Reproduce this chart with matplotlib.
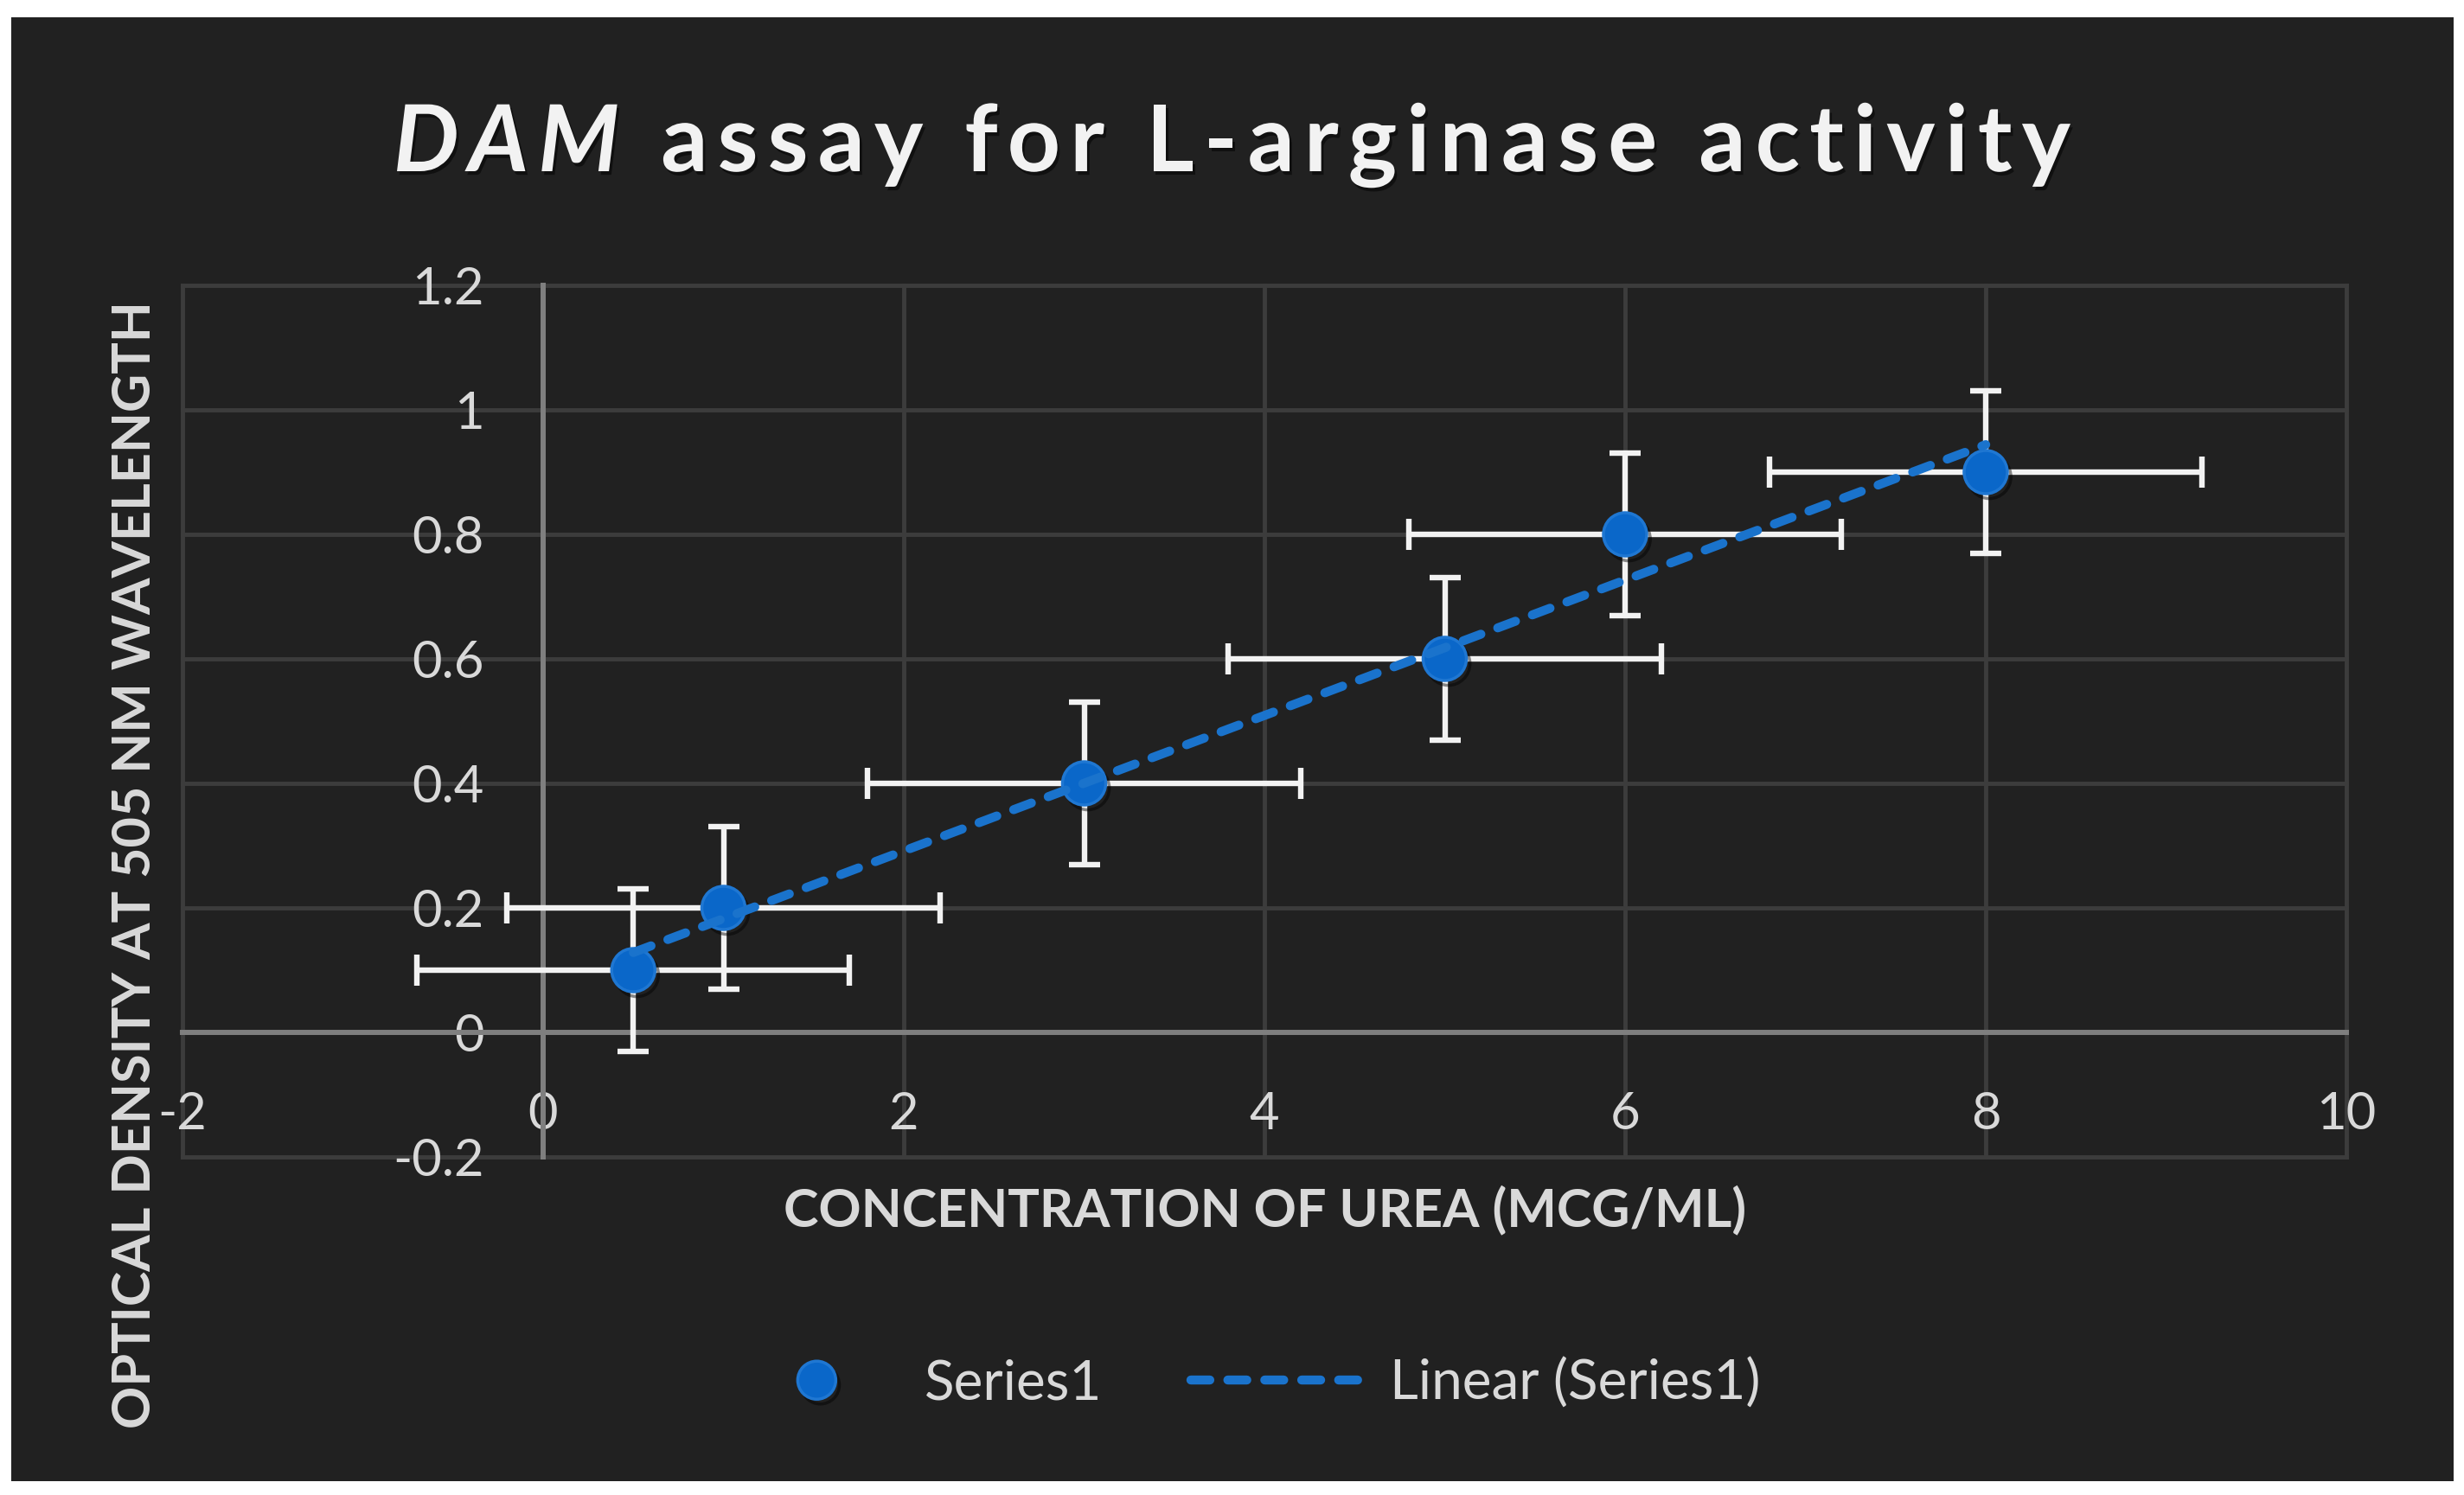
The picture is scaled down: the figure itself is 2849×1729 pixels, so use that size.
import numpy as np
import matplotlib
matplotlib.use("Agg")
from matplotlib import pyplot as plt
from matplotlib import patheffects as pe
from matplotlib import font_manager, ft2font
from matplotlib.patches import Rectangle


# data
conc = [0.5, 1, 3, 5, 6, 8]
od = [0.1, 0.2, 0.4, 0.6, 0.8, 0.9]
x_err = [1.2, 1.2, 1.2, 1.2, 1.2, 1.2]
y_err = [0.13, 0.13, 0.13, 0.13, 0.13, 0.13]

x_ticks = [-2, 0, 2, 4, 6, 8, 10]
y_ticks = [-0.2, 0, 0.2, 0.4, 0.6, 0.8, 1.0, 1.2]

W, H = 2849, 1729
bg = '#212121'
grid_c = '#3c3c3c'
axis_c = '#7f7f7f'
text_c = '#d9d9d9'
blue = '#0a67c9'
trend_c = '#1a73cc'

plt.rcParams['font.family'] = ['Lato', 'DejaVu Sans']
plt.rcParams['axes.unicode_minus'] = False

fig = plt.figure(figsize=(W / 100, H / 100), dpi=100, facecolor='white')
fig.patches.append(Rectangle((13 / W, 1 - 1713 / H), 2824 / W, 1693 / H,
                             transform=fig.transFigure, facecolor=bg,
                             edgecolor='none', zorder=-10))

ax = fig.add_axes([211 / W, 1 - 1338 / H, (2713 - 211) / W, (1338 - 330) / H])
ax.set_facecolor(bg)
ax.set_xlim(-2, 10)
ax.set_ylim(-0.2, 1.2)

# axes crossing at zero, like the spreadsheet
for s in ['top', 'right']:
    ax.spines[s].set_visible(False)
ax.spines['left'].set_position(('data', 0))
ax.spines['bottom'].set_position(('data', 0))
for s in ['left', 'bottom']:
    ax.spines[s].set_color(axis_c)
    ax.spines[s].set_linewidth(4.3)
    ax.spines[s].set_zorder(1.5)

ax.set_xticks(x_ticks)
ax.set_yticks(y_ticks)
ax.set_xticklabels([f'{v:g}' for v in x_ticks])
ax.set_yticklabels([f'{v:g}' for v in y_ticks])
ax.tick_params(length=0, labelsize=43, labelcolor=text_c, pad=49)
ax.grid(True, color=grid_c, linewidth=3.5)
ax.set_axisbelow(True)
for gl in ax.get_xgridlines() + ax.get_ygridlines():
    gl.set_clip_on(False)

# error bars and markers
eb = ax.errorbar(conc, od, xerr=x_err, yerr=y_err, fmt='none',
                 ecolor='#f2f2f2', elinewidth=4.6, capsize=13, capthick=4.6,
                 zorder=3)
pts, = ax.plot(conc, od, 'o', ms=36, mfc=blue, mec='#1f77d2', mew=2.5,
               zorder=4, label='Series1',
               path_effects=[pe.SimpleLineShadow(offset=(3, -4), shadow_color='black',
                                                 alpha=0.45),
                             pe.Normal()])

# linear trendline
slope, icpt = np.polyfit(conc, od, 1)
xt = np.array([min(conc), max(conc)])
trend, = ax.plot(xt, slope * xt + icpt, color=trend_c, lw=7.5,
                 dashes=(2.1, 2.0), dash_capstyle='round', zorder=5,
                 label='Linear (Series1)')


# title is letter-spaced, so lay it out one glyph at a time
def glyph_runs(parts, size, tracking):
    out = []
    for s, style in parts:
        fp = font_manager.FontProperties(family='Lato', weight='bold', style=style)
        font = ft2font.FT2Font(font_manager.findfont(fp), hinting_factor=1)
        font.set_size(size, 100)
        for c in s:
            g = font.load_char(ord(c))
            out.append((c, style, g.linearHoriAdvance / 65536 + tracking))
    return out


title_size = 77
runs = glyph_runs([('DAM', 'italic'), (' assay for L-arginase activity', 'normal')],
                  title_size, 11)
total = sum(r[2] for r in runs) - 11
pen = (W - total) / 2
ty = 1 - 198 / H
shadow = [pe.withSimplePatchShadow(offset=(2, -3), shadow_rgbFace='black', alpha=0.5)]
for c, style, adv in runs:
    if c != ' ':
        fig.text(pen / W, ty, c, fontsize=title_size, fontweight='bold', style=style,
                 color='#f2f2f2', va='baseline', ha='left', path_effects=shadow)
    pen += adv

fig.text(1463 / W, 1 - 1399 / H, 'CONCENTRATION OF UREA (MCG/ML)', fontsize=44,
         fontweight='bold', color=text_c, ha='center', va='center')
fig.text(156 / W, 1 - 1000 / H, 'OPTICAL DENSITY AT 505 NM WAVELENGTH', fontsize=44,
         fontweight='bold', color=text_c, ha='center', va='center', rotation=90)

leg = fig.legend(handles=[pts, trend], loc='center', bbox_to_anchor=(1437 / W, 1 - 1600 / H),
                 ncol=2, frameon=False, fontsize=46, handlelength=3.3,
                 handletextpad=0.3, columnspacing=1.6, numpoints=1, markerscale=0.88)
for txt in leg.get_texts():
    txt.set_color(text_c)

fig.savefig('out.png', dpi=100, facecolor='white')
